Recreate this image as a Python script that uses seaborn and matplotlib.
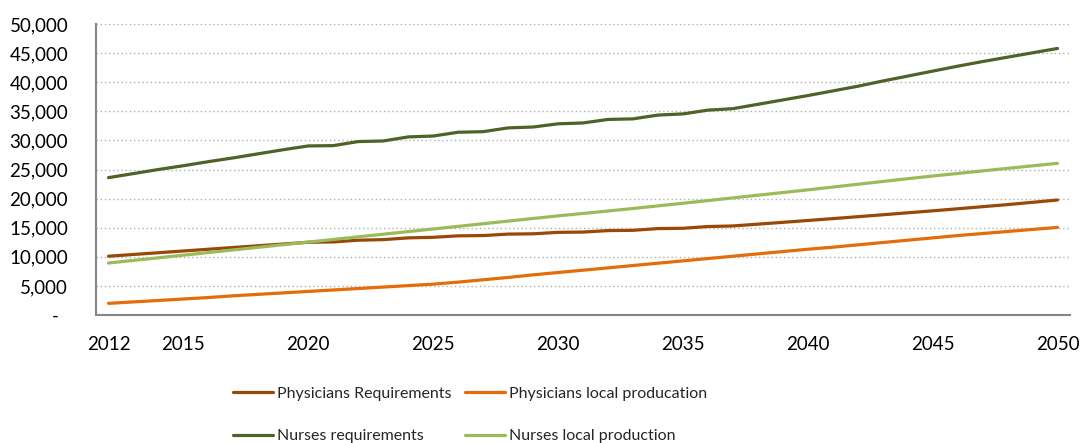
import matplotlib
matplotlib.use("Agg")
import matplotlib.pyplot as plt
import matplotlib.ticker as mticker
import seaborn as sns
import pandas as pd
import numpy as np

years = list(range(2012, 2051))
year_labels = ["2012", "2015", "2020", "2025", "2030", "2035", "2040", "2045", "2050"]

physicians_requirements = [
    10100, 10400, 10700, 11000, 11300, 11600, 11900, 12200, 12500,
    12550, 12850, 12950, 13250, 13350, 13600, 13650, 13900, 13950,
    14200, 14250, 14500, 14550, 14850, 14900, 15200, 15300,
    15610, 15920, 16240, 16560, 16890, 17220, 17560, 17900, 18250,
    18610, 18970, 19360, 19760,
]
physicians_local_production = [
    2000, 2250, 2500, 2750, 3000, 3300, 3550, 3800, 4050,
    4300, 4550, 4800, 5050, 5300, 5650, 6050, 6450, 6900,
    7300, 7700, 8100, 8500, 8900, 9300, 9700, 10100,
    10500, 10900, 11300, 11650, 12050, 12450, 12850, 13250, 13650,
    14000, 14350, 14700, 15050,
]
nurses_requirements = [
    23600, 24300, 25000, 25650, 26350, 27000, 27700, 28400, 29050,
    29100, 29800, 29900, 30600, 30750, 31400, 31500, 32150, 32300,
    32850, 33000, 33600, 33700, 34350, 34550, 35200, 35450,
    36200, 36950, 37700, 38500, 39300, 40200, 41050, 41900, 42750,
    43550, 44300, 45050, 45800,
]
nurses_local_production = [
    8930, 9380, 9830, 10280, 10730, 11180, 11630, 12080, 12530,
    12980, 13430, 13880, 14330, 14780, 15230, 15680, 16130, 16580,
    17030, 17450, 17870, 18300, 18750, 19200, 19660, 20120,
    20580, 21040, 21500, 21980, 22460, 22940, 23420, 23880, 24320,
    24760, 25200, 25630, 26060,
]

series_names = ["Physicians Requirements", "Physicians local producation",
                "Nurses requirements", "Nurses local production"]
series_values = [physicians_requirements, physicians_local_production,
                 nurses_requirements, nurses_local_production]
colors = ["#984807", "#E46C0A", "#4F6228", "#9BBB59"]

idx = list(range(len(years)))
frames = []
for name, vals in zip(series_names, series_values):
    frames.append(pd.DataFrame({"pos": idx, "value": vals, "series": name}))
df = pd.concat(frames, ignore_index=True)

sns.set_style("white")
plt.rcParams["font.family"] = ["Lato", "DejaVu Sans"]

fig = plt.figure(figsize=(10.81, 4.43), dpi=100)
ax = fig.add_axes([96 / 1081, 1 - 315 / 443, (1070 - 96) / 1081, (315 - 24) / 443])

sns.lineplot(data=df, x="pos", y="value", hue="series", hue_order=series_names,
             palette=dict(zip(series_names, colors)), linewidth=2.3, ax=ax,
             legend=False, solid_capstyle="round")

ax.set_xlim(-0.5, len(years) - 0.5)
ax.set_ylim(0, 50000)
ax.set_xlabel("")
ax.set_ylabel("")

# y axis
ax.set_yticks(np.arange(0, 50001, 5000))
ax.yaxis.set_major_formatter(mticker.FuncFormatter(
    lambda v, p: "-  " if v == 0 else f"{int(v):,}"))
ax.grid(axis="y", linestyle=(0, (1, 2)), color="#AFAFAF", linewidth=1.0)
ax.grid(axis="x", visible=False)

# x axis: labels at categories, tick marks at category boundaries every 5
label_pos = [years.index(int(y)) for y in year_labels]
ax.set_xticks(label_pos)
ax.set_xticklabels(year_labels)
ax.set_xticks(np.arange(-0.5, len(years) - 1, 5), minor=True)
ax.tick_params(axis="x", which="major", length=0, pad=15, labelsize=13.5, labelcolor="black")
ax.tick_params(axis="x", which="minor", length=6, width=1.3, color="#868686", direction="out")
ax.tick_params(axis="y", which="major", length=7, width=1.3, color="#868686",
               direction="out", pad=13, labelsize=13.5, labelcolor="black")

for s in ["top", "right"]:
    ax.spines[s].set_visible(False)
for s in ["left", "bottom"]:
    ax.spines[s].set_color("#868686")
    ax.spines[s].set_linewidth(1.5)

# legend filled column-wise: column 1 = first entries of each row
legend_order = [0, 2, 1, 3]
handles = [plt.Line2D([], [], color=colors[i], linewidth=2.3, solid_capstyle="round")
           for i in legend_order]
labels = [series_names[i] for i in legend_order]
fig.legend(handles, labels, ncol=2, loc="center",
           bbox_to_anchor=(0.4345, 1 - 415 / 443), frameon=False, fontsize=11.5,
           handlelength=2.5, handletextpad=0.25, columnspacing=0.85, labelspacing=1.75)

fig.savefig("out.png", dpi=100)
